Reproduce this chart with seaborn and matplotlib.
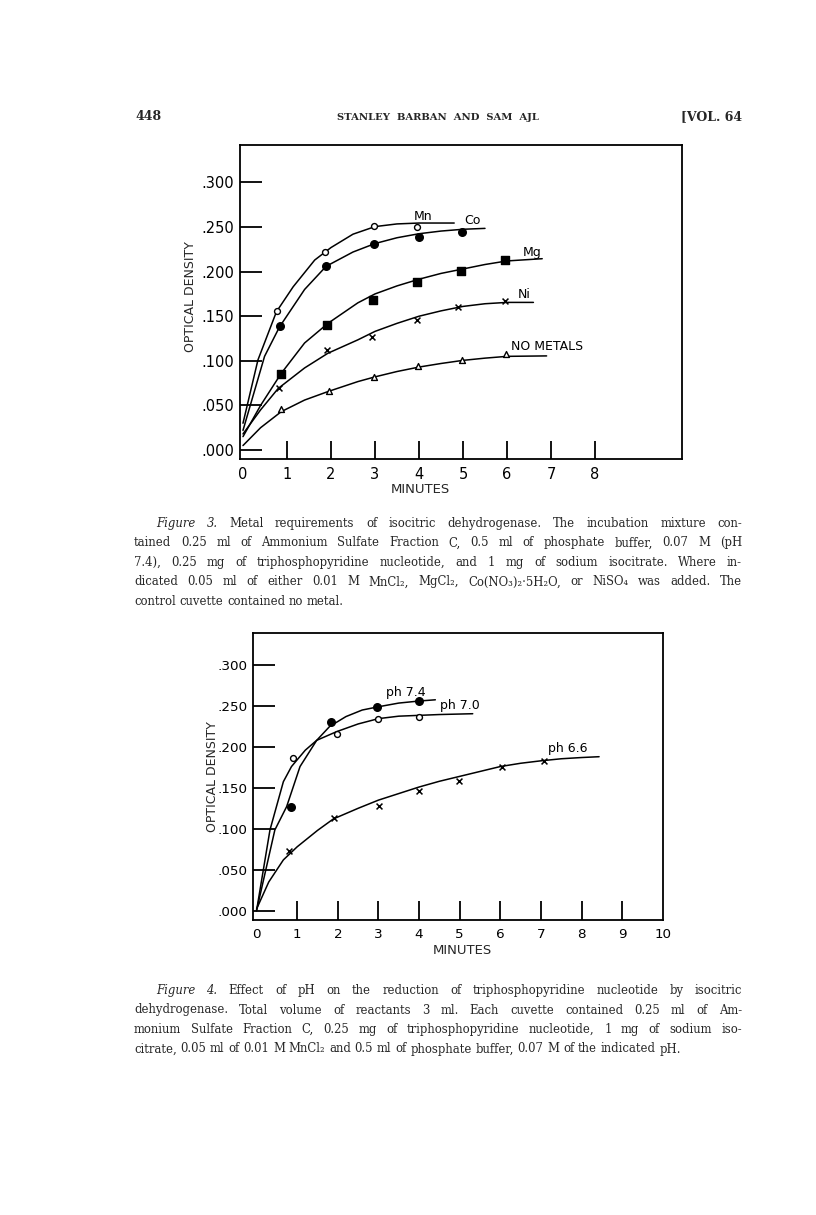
import matplotlib
matplotlib.use("Agg")
import matplotlib.pyplot as plt
import seaborn as sns
import pandas as pd

# ---- Figure 3 : metal requirements ----
mn_x = [0.77, 1.87, 2.98, 3.95]
mn_y = [0.156, 0.2225, 0.251, 0.2505]
co_x = [0.83, 1.89, 2.98, 4.0, 4.97]
co_y = [0.139, 0.2065, 0.2315, 0.2385, 0.244]
mg_x = [0.87, 1.92, 2.96, 3.95, 4.95, 5.96]
mg_y = [0.0855, 0.140, 0.168, 0.188, 0.2005, 0.2125]
ni_x = [0.82, 1.90, 2.94, 3.96, 4.89, 5.95]
ni_y = [0.069, 0.112, 0.127, 0.146, 0.160, 0.167]
nm_x = [0.87, 1.95, 2.98, 3.97, 4.97, 5.97]
nm_y = [0.0455, 0.0665, 0.082, 0.094, 0.1005, 0.1075]

# hand drawn curves, traced at a few places
mn_cx = [0, 0.34, 0.76, 1.14, 1.63, 2.0, 2.5, 3.0, 3.5, 4.0, 4.8]
mn_cy = [0.03, 0.101, 0.155, 0.183, 0.213, 0.227, 0.242, 0.2505, 0.2535, 0.2545, 0.2545]
co_cx = [0, 0.49, 0.83, 1.4, 1.89, 2.5, 3.0, 3.5, 4.0, 4.5, 5.0, 5.5]
co_cy = [0.022, 0.105, 0.138, 0.180, 0.206, 0.222, 0.2315, 0.238, 0.2425, 0.2455, 0.2475, 0.2485]
mg_cx = [0, 0.4, 0.87, 1.4, 1.93, 2.61, 3.0, 3.5, 4.0, 4.5, 5.0, 5.5, 6.0, 6.8]
mg_cy = [0.015, 0.05, 0.086, 0.12, 0.142, 0.165, 0.175, 0.184, 0.1915, 0.198, 0.203, 0.208, 0.212, 0.2145]
ni_cx = [0, 0.4, 0.8, 1.4, 1.93, 2.61, 3.0, 3.5, 4.0, 4.5, 5.0, 5.5, 6.0, 6.6]
ni_cy = [0.018, 0.045, 0.069, 0.092, 0.1085, 0.1235, 0.133, 0.142, 0.15, 0.156, 0.161, 0.164, 0.1655, 0.1655]
nm_cx = [0, 0.4, 0.87, 1.4, 1.93, 2.61, 3.0, 3.5, 4.0, 4.5, 5.0, 5.5, 6.0, 6.9]
nm_cy = [0.005, 0.025, 0.043, 0.056, 0.0655, 0.0767, 0.082, 0.088, 0.093, 0.097, 0.1005, 0.103, 0.105, 0.1055]

# ---- Figure 4 : effect of pH ----
p74_x = [0.86, 1.83, 2.97, 4.0]
p74_y = [0.127, 0.230, 0.249, 0.2564]
p70_x = [0.89, 1.97, 2.98, 4.0]
p70_y = [0.186, 0.2157, 0.2344, 0.236]
p66_x = [0.80, 1.91, 3.02, 4.0, 4.98, 6.03, 7.07]
p66_y = [0.0729, 0.1136, 0.1278, 0.1465, 0.158, 0.176, 0.183]

p74_cx = [0, 0.45, 0.74, 1.07, 1.48, 1.8, 2.2, 2.6, 3.0, 3.5, 4.0, 4.4]
p74_cy = [0.0, 0.0985, 0.127, 0.176, 0.208, 0.225, 0.237, 0.245, 0.249, 0.2535, 0.256, 0.2575]
p70_cx = [0, 0.33, 0.66, 0.86, 1.2, 1.48, 1.97, 2.5, 3.0, 3.5, 4.0, 4.5, 5.32]
p70_cy = [0.0, 0.0985, 0.1575, 0.176, 0.196, 0.208, 0.2186, 0.228, 0.2345, 0.2375, 0.2385, 0.2395, 0.2405]
p66_cx = [0, 0.3, 0.66, 1.0, 1.5, 1.89, 2.5, 3.0, 3.5, 4.0, 4.5, 5.0, 5.5, 6.0, 6.5, 7.0, 7.5, 8.0, 8.43]
p66_cy = [0.002, 0.035, 0.062, 0.078, 0.098, 0.112, 0.125, 0.135, 0.143, 0.151, 0.158, 0.164, 0.17, 0.176, 0.18, 0.183, 0.1855, 0.187, 0.188]

od_ticks = [0, 0.05, 0.10, 0.15, 0.20, 0.25, 0.30]
od_labels = [".000", ".050", ".100", ".150", ".200", ".250", ".300"]
min_ticks3 = [0, 1, 2, 3, 4, 5, 6, 7, 8]
min_ticks4 = [0, 1, 2, 3, 4, 5, 6, 7, 8, 9, 10]

header_left = "448"
header_mid = "STANLEY  BARBAN  AND  SAM  AJL"
header_right = "[VOL. 64"

caption3 = [
    "Figure 3. Metal requirements of isocitric dehydrogenase. The incubation mixture con-",
    "tained 0.25 ml of Ammonium Sulfate Fraction C, 0.5 ml of phosphate buffer, 0.07 M (pH",
    "7.4), 0.25 mg of triphosphopyridine nucleotide, and 1 mg of sodium isocitrate. Where in-",
    "dicated 0.05 ml of either 0.01 M MnCl₂, MgCl₂, Co(NO₃)₂·5H₂O, or NiSO₄ was added. The",
    "control cuvette contained no metal.",
]
caption4 = [
    "Figure 4. Effect of pH on the reduction of triphosphopyridine nucleotide by isocitric",
    "dehydrogenase. Total volume of reactants 3 ml. Each cuvette contained 0.25 ml of Am-",
    "monium Sulfate Fraction C, 0.25 mg of triphosphopyridine nucleotide, 1 mg of sodium iso-",
    "citrate, 0.05 ml of 0.01 M MnCl₂ and 0.5 ml of phosphate buffer, 0.07 M of the indicated pH.",
]

sns.set_style("white")
plt.rcParams["font.family"] = ["DejaVu Sans"]

W, H = 816, 1215
fig = plt.figure(figsize=(W / 100, H / 100), dpi=100)
fig.patch.set_facecolor("white")


def fx(x):
    return x / W


def fy(y):
    return 1 - y / H


def curves(parts):
    return pd.concat([pd.DataFrame({"minutes": cx, "od": cy, "series": name})
                      for name, cx, cy in parts], ignore_index=True)


def setup(ax, xlim, ylim, xt, ysize, ylen, xlen):
    ax.set_xlim(*xlim)
    ax.set_ylim(*ylim)
    for s in ax.spines.values():
        s.set_visible(True)
        s.set_color("black")
        s.set_linewidth(1.3)
    ax.set_xticks(xt)
    ax.set_xticklabels([str(t) for t in xt], fontsize=ysize)
    ax.set_yticks(od_ticks)
    ax.set_yticklabels(od_labels, fontsize=ysize)
    ax.tick_params(axis="x", bottom=True, direction="in", length=xlen, width=1.3, pad=6, colors="black")
    ax.tick_params(axis="y", left=True, direction="in", length=ylen, width=1.3, pad=4, colors="black")
    ax.set_xlabel("")
    ax.set_ylabel("")
    ax.grid(False)
    ax.xaxis.get_major_ticks()[0].tick1line.set_visible(False)


def points(ax, x, y, marker, face, s):
    if marker == "x":
        sns.scatterplot(x=x, y=y, marker="x", s=s, color="black", linewidth=1.1, ax=ax, zorder=3)
    else:
        sns.scatterplot(x=x, y=y, marker=marker, s=s, facecolor=face, edgecolor="black",
                        linewidth=1.0, ax=ax, zorder=3)


# ---------------- Figure 3 ----------------
ax1 = fig.add_axes([fx(240), fy(459), 442 / W, 314 / H])
df3 = curves([("Mn", mn_cx, mn_cy), ("Co", co_cx, co_cy), ("Mg", mg_cx, mg_cy),
              ("Ni", ni_cx, ni_cy), ("none", nm_cx, nm_cy)])
sns.lineplot(data=df3, x="minutes", y="od", units="series", estimator=None, sort=False,
             color="black", linewidth=1.1, ax=ax1, legend=False)
points(ax1, mn_x, mn_y, "o", "white", 18)
points(ax1, co_x, co_y, "o", "black", 30)
points(ax1, mg_x, mg_y, "s", "black", 26)
points(ax1, ni_x, ni_y, "x", "black", 18)
points(ax1, nm_x, nm_y, "^", "white", 18)
setup(ax1, (-0.068, 9.977), (-0.0101, 0.342), min_ticks3, 10.5, 16, 13)

lab = dict(fontsize=9, color="black", va="center")
ax1.text(4.09, 0.262, "Mn", ha="center", **lab)
ax1.text(5.21, 0.257, "Co", ha="center", **lab)
ax1.text(6.56, 0.222, "Mg", ha="center", **lab)
ax1.text(6.38, 0.174, "Ni", ha="center", **lab)
ax1.text(6.1, 0.116, "NO METALS", ha="left", **lab)

fig.text(fx(190), fy(297), "OPTICAL DENSITY", rotation=90, ha="center", va="center", fontsize=9)
fig.text(fx(420), fy(490), "MINUTES", ha="center", va="center", fontsize=9.5)

# ---------------- Figure 4 ----------------
ax2 = fig.add_axes([fx(253.3), fy(920), 410 / W, 286.7 / H])
df4 = curves([("7.4", p74_cx, p74_cy), ("7.0", p70_cx, p70_cy), ("6.6", p66_cx, p66_cy)])
sns.lineplot(data=df4, x="minutes", y="od", units="series", estimator=None, sort=False,
             color="black", linewidth=1.1, ax=ax2, legend=False)
points(ax2, p74_x, p74_y, "o", "black", 30)
points(ax2, p70_x, p70_y, "o", "white", 18)
points(ax2, p66_x, p66_y, "x", "black", 18)
setup(ax2, (-0.08, 10.01), (-0.0114, 0.3387), min_ticks4, 9.7, 16, 14)
ax2.xaxis.get_major_ticks()[-1].tick1line.set_visible(False)

ax2.text(3.67, 0.267, "ph 7.4", ha="center", **lab)
ax2.text(5.0, 0.251, "ph 7.0", ha="center", **lab)
ax2.text(7.65, 0.198, "ph 6.6", ha="center", **lab)

fig.text(fx(213), fy(777), "OPTICAL DENSITY", rotation=90, ha="center", va="center", fontsize=9)
fig.text(fx(462), fy(950), "MINUTES", ha="center", va="center", fontsize=9.5)

# ---------------- page text ----------------
serif = ["DejaVu Serif", "DejaVu Sans"]
fig.text(fx(135), fy(120), header_left, fontsize=9, fontweight="bold", family=serif, va="baseline")
fig.text(fx(438), fy(120), header_mid, fontsize=7.2, fontweight="bold", family=serif,
         ha="center", va="baseline")
fig.text(fx(742), fy(120), header_right, fontsize=9, fontweight="bold", family=serif,
         ha="right", va="baseline")

renderer = fig.canvas.get_renderer()


def paragraph(lines, left, right, indent, baseline, step, size=8.4):
    space = 0.32 * size * 100 / 72
    for i, line in enumerate(lines):
        words = line.split(" ")
        x0 = left + (indent if i == 0 else 0)
        arts = []
        for j, w in enumerate(words):
            style = "italic" if (i == 0 and j < 2) else "normal"
            t = fig.text(0, fy(baseline + i * step), w, fontsize=size, family=serif,
                         style=style, va="baseline")
            arts.append(t)
        widths = [t.get_window_extent(renderer).width for t in arts]
        last = i == len(lines) - 1
        gap = space if last else (right - x0 - sum(widths)) / (len(words) - 1)
        x = x0
        for t, wd in zip(arts, widths):
            t.set_x(fx(x))
            x += wd + gap


paragraph(caption3, 134, 742, 22, 527, 19.5)
paragraph(caption4, 134, 742, 22, 994, 19.5)

fig.savefig("out.png", dpi=100, facecolor="white")
